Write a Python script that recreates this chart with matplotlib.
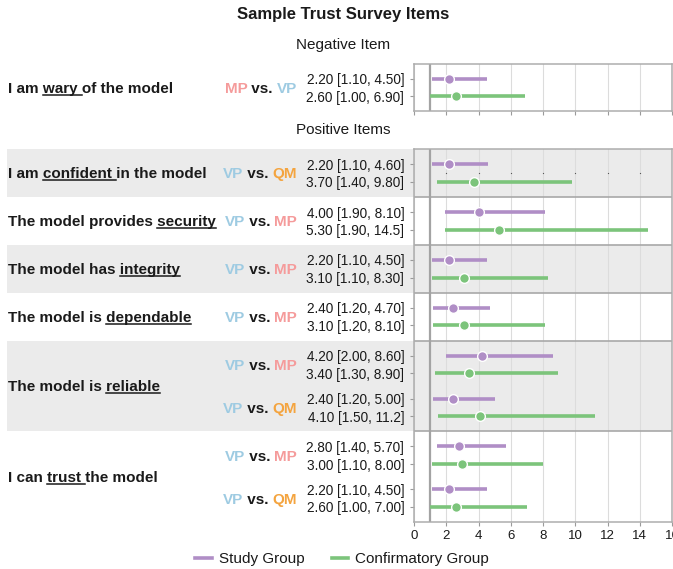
import matplotlib.pyplot as plt
from matplotlib.lines import Line2D
from matplotlib.patches import Rectangle
from matplotlib.transforms import IdentityTransform

plt.rcParams['font.family'] = ['Liberation Sans', 'DejaVu Sans']

# odds ratios [95% CI] per comparison: study group and confirmatory group
neg_items = [('I am ', 'wary ', 'of the model')]
neg_item_idx = [0]
neg_pairs = [('MP', 'VP')]
neg_study = [2.20]
neg_study_lo = [1.10]
neg_study_hi = [4.50]
neg_conf = [2.60]
neg_conf_lo = [1.00]
neg_conf_hi = [6.90]

pos_items = [('I am ', 'confident ', 'in the model'),
             ('The model provides ', 'security', ''),
             ('The model has ', 'integrity', ''),
             ('The model is ', 'dependable', ''),
             ('The model is ', 'reliable', ''),
             ('I can ', 'trust ', 'the model')]
pos_item_idx = [0, 1, 2, 3, 4, 4, 5, 5]
pos_pairs = [('VP', 'QM'), ('VP', 'MP'), ('VP', 'MP'), ('VP', 'MP'),
             ('VP', 'MP'), ('VP', 'QM'), ('VP', 'MP'), ('VP', 'QM')]
pos_study = [2.20, 4.00, 2.20, 2.40, 4.20, 2.40, 2.80, 2.20]
pos_study_lo = [1.10, 1.90, 1.10, 1.20, 2.00, 1.20, 1.40, 1.10]
pos_study_hi = [4.60, 8.10, 4.50, 4.70, 8.60, 5.00, 5.70, 4.50]
pos_conf = [3.70, 5.30, 3.10, 3.10, 3.40, 4.10, 3.00, 2.60]
pos_conf_lo = [1.40, 1.90, 1.10, 1.20, 1.30, 1.50, 1.10, 1.00]
pos_conf_hi = [9.80, 14.5, 8.30, 8.10, 8.90, 11.2, 8.00, 7.00]

STUDY = '#b08ec6'
CONFIRM = '#7cc47b'
CODE_COLORS = {'MP': '#f59b9b', 'VP': '#9ecbe2', 'QM': '#f4a43f'}
BAND = '#ebebeb'
TXT = '#1a1a1a'

MARGIN, GAP = 0.86, 1.43
W, H = 673, 569


def layout(item_idx):
    """Row positions for each comparison and the band edges of each item."""
    ys, bounds = [], [0.0]
    y, prev = 0.0, None
    for k in item_idx:
        if prev is None:
            y += MARGIN
        elif k == prev:
            y += GAP
        else:
            y += MARGIN
            bounds.append(y)
            y += MARGIN
        ys.append((y, y + 1))
        y += 1
        prev = k
    bounds.append(y + MARGIN)
    return ys, bounds


def fmt(v):
    return format(v, '#.3g')


def add_axes(top, bottom):
    return fig.add_axes([414 / W, 1 - bottom / H, 258 / W, (bottom - top) / H])


def draw_panel(ax, item_idx, study, s_lo, s_hi, conf, c_lo, c_hi, show_x):
    ys, bounds = layout(item_idx)
    ax.set_facecolor('none')
    ax.set_xlim(0, 16)
    ax.set_ylim(bounds[-1], 0)
    ax.set_xticks(range(0, 17, 2))
    ax.grid(axis='x', color='#dcdcdc', lw=0.8)
    ax.set_axisbelow(True)
    for sp in ax.spines.values():
        sp.set_color('#adadad')
        sp.set_linewidth(1.1)
    for b in bounds[1:-1]:
        ax.axhline(b, color='#a8a8a8', lw=1.2, zorder=1)
    ax.axvline(1, color='#a3a3a3', lw=1.6, zorder=1.5)

    ticks, labels = [], []
    for i, (y1, y2) in enumerate(ys):
        ax.plot([s_lo[i], s_hi[i]], [y1, y1], color=STUDY, lw=2.6,
                solid_capstyle='butt', zorder=2)
        ax.plot([study[i]], [y1], 'o', color=STUDY, ms=7,
                mec='white', mew=1, zorder=3)
        ax.plot([c_lo[i], c_hi[i]], [y2, y2], color=CONFIRM, lw=2.6,
                solid_capstyle='butt', zorder=2)
        ax.plot([conf[i]], [y2], 'o', color=CONFIRM, ms=7,
                mec='white', mew=1, zorder=3)
        ticks += [y1, y2]
        labels += ['%s [%s, %s]' % (fmt(study[i]), fmt(s_lo[i]), fmt(s_hi[i])),
                   '%s [%s, %s]' % (fmt(conf[i]), fmt(c_lo[i]), fmt(c_hi[i]))]
    ax.set_yticks(ticks)
    ax.set_yticklabels(labels)
    ax.tick_params(axis='y', length=3, color='#9a9a9a', pad=4,
                   labelsize=9.8, labelcolor=TXT)
    ax.tick_params(axis='x', length=3, color='#9a9a9a', pad=3,
                   labelsize=9.5, labelcolor=TXT, labelbottom=show_x)
    return ys, bounds


fig = plt.figure(figsize=(W / 100, H / 100), dpi=100)
renderer = fig.canvas.get_renderer()
ident = IdentityTransform()


def text_width(s, **kw):
    t = fig.text(0, 0, s + '|', **kw)
    w = t.get_window_extent(renderer).width
    t.set_text('|')
    w -= t.get_window_extent(renderer).width
    t.remove()
    return w


def y_px(ax, y):
    return ax.transData.transform((0, y))[1]


def annotate_panel(ax, items, pairs, ys, bounds, shaded):
    bold = dict(fontsize=11, fontweight='bold')
    # item bands and item labels
    for k, (pre, key, post) in enumerate(items):
        top, bot = y_px(ax, bounds[k]), y_px(ax, bounds[k + 1])
        if k in shaded:
            fig.add_artist(Rectangle((7, bot), 672 - 7, top - bot,
                                     transform=ident, color=BAND, lw=0,
                                     zorder=-1))
        base = (top + bot) / 2 - 5.5
        fig.text(8, base, pre + key + post, transform=ident, va='baseline',
                 color=TXT, **bold)
        x1 = 8 + text_width(pre, **bold)
        x2 = 8 + text_width(pre + key, **bold)
        fig.add_artist(Line2D([x1, x2], [base - 2, base - 2], transform=ident,
                              color=TXT, lw=1.1))
    # comparison labels, right aligned next to the values
    for i, (a, b) in enumerate(pairs):
        base = (y_px(ax, ys[i][0]) + y_px(ax, ys[i][1])) / 2 - 5.5
        parts = [(a, CODE_COLORS[a]), (' vs. ', TXT), (b, CODE_COLORS[b])]
        x = 297 - text_width(a + ' vs. ' + b, **bold)
        done = ''
        for s, c in parts:
            fig.text(x + text_width(done, **bold), base, s, transform=ident,
                     va='baseline', color=c, **bold)
            done += s


ax_neg = add_axes(64, 111)
ys_n, bounds_n = draw_panel(ax_neg, neg_item_idx, neg_study, neg_study_lo,
                            neg_study_hi, neg_conf, neg_conf_lo, neg_conf_hi,
                            show_x=False)
ax_pos = add_axes(149, 522)
ys_p, bounds_p = draw_panel(ax_pos, pos_item_idx, pos_study, pos_study_lo,
                            pos_study_hi, pos_conf, pos_conf_lo, pos_conf_hi,
                            show_x=True)

# stray tick dots inside the first positive band
inner = ax_pos.get_xticks()[1:-1]
ax_pos.plot(inner, [bounds_p[0] + MARGIN + 0.5] * len(inner), 'o',
            color='#555555', ms=0.9, mew=0, zorder=1.2)

annotate_panel(ax_neg, neg_items, neg_pairs, ys_n, bounds_n, shaded=[])
annotate_panel(ax_pos, pos_items, pos_pairs, ys_p, bounds_p, shaded=[0, 2, 4])

fig.text(343 / W, 1 - 14 / H, 'Sample Trust Survey Items', ha='center',
         va='center', fontsize=12, fontweight='bold', color=TXT)
fig.text(343 / W, 1 - 45 / H, 'Negative Item', ha='center', va='center',
         fontsize=11, color=TXT)
fig.text(343 / W, 1 - 130 / H, 'Positive Items', ha='center', va='center',
         fontsize=11, color=TXT)

handles = [Line2D([], [], color=STUDY, lw=2.6),
           Line2D([], [], color=CONFIRM, lw=2.6)]
fig.legend(handles, ['Study Group', 'Confirmatory Group'], loc='center',
           bbox_to_anchor=(342 / W, 1 - 559 / H), ncol=2, frameon=False,
           fontsize=11, handlelength=1.1, handletextpad=0.45,
           columnspacing=1.8, labelcolor=TXT)

fig.savefig('out.png', dpi=100)
